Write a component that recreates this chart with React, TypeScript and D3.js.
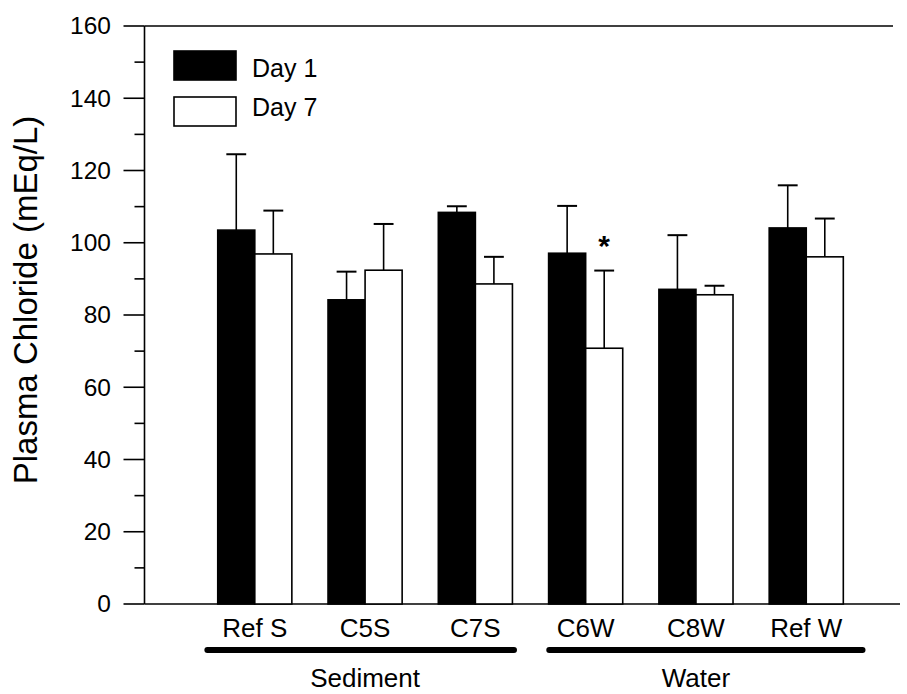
import React from "react";
import * as d3 from "d3";

// Sampling sites along the x axis
const categories = ["Ref S", "C5S", "C7S", "C6W", "C8W", "Ref W"];
// Mean plasma chloride (mEq/L) and upper error (SE) per site
const day1 = [103.5, 84.2, 108.4, 97.1, 87.1, 104.1];
const day1Err = [21.0, 7.8, 1.7, 13.1, 15.0, 11.8];
const day7 = [96.9, 92.4, 88.6, 70.8, 85.6, 96.1];
const day7Err = [12.0, 12.8, 7.5, 21.5, 2.5, 10.6];
// Significant differences (marked with an asterisk) on Day 7
const day7Signif = [false, false, false, true, false, false];
// Site groupings drawn beneath the category labels
const groupNames = ["Sediment", "Water"];
const groupFirst = [0, 3];
const groupLast = [2, 5];
const yTicks = [0, 20, 40, 60, 80, 100, 120, 140, 160];
const yMinorTicks = [10, 30, 50, 70, 90, 110, 130, 150];
const seriesNames = ["Day 1", "Day 7"];

const W = 907;
const H = 694;
const FONT = "'Liberation Sans', Arial, Helvetica, sans-serif";

export default function App() {
  const x = d3.scaleLinear().domain([0, 6.85]).range([144.5, 900]);
  const y = d3.scaleLinear().domain([0, 160]).range([604, 26]);
  const bw = 0.336; // bar width in category units
  const capHalf = 0.09;

  const bars: React.ReactNode[] = [];
  categories.forEach((c, i) => {
    const cx = i + 1;
    const series = [
      { v: day1[i], e: day1Err[i], x0: cx - bw, fill: "#000" },
      { v: day7[i], e: day7Err[i], x0: cx, fill: "#fff" },
    ];
    series.forEach((s, j) => {
      const mid = s.x0 + bw / 2;
      bars.push(
        <g key={`${c}-${j}`}>
          <line x1={x(mid)} x2={x(mid)} y1={y(s.v)} y2={y(s.v + s.e)} stroke="#000" strokeWidth={1.6} />
          <line x1={x(mid - capHalf)} x2={x(mid + capHalf)} y1={y(s.v + s.e)} y2={y(s.v + s.e)} stroke="#000" strokeWidth={2} />
          <rect x={x(s.x0)} y={y(s.v)} width={x(s.x0 + bw) - x(s.x0)} height={y(0) - y(s.v)} fill={s.fill} stroke="#000" strokeWidth={1.6} />
        </g>
      );
    });
    if (day7Signif[i]) {
      const mid = cx + bw / 2;
      bars.push(
        <text key={`sig-${c}`} x={x(mid)} y={y(day7[i] + day7Err[i]) - 15} textAnchor="middle" fontSize={30} fontWeight="bold" fontFamily={FONT}>
          *
        </text>
      );
    }
  });

  return (
    <svg width={W} height={H} style={{ position: "absolute", left: 0, top: 0, background: "#fff" }} fontFamily={FONT}>
      <rect width={W} height={H} fill="#fff" />
      {/* frame lines */}
      <line x1={x(0)} x2={900} y1={y(0)} y2={y(0)} stroke="#000" strokeWidth={1.6} />
      <line x1={x(0)} x2={893} y1={y(160)} y2={y(160)} stroke="#000" strokeWidth={1.6} />
      <line x1={x(0)} x2={x(0)} y1={y(0)} y2={y(160)} stroke="#000" strokeWidth={1.6} />
      {yTicks.map((t) => (
        <g key={t}>
          <line x1={x(0) - 21} x2={x(0)} y1={y(t)} y2={y(t)} stroke="#000" strokeWidth={1.6} />
          <text x={111} y={y(t)} dy="0.34em" textAnchor="end" fontSize={24.5}>
            {t}
          </text>
        </g>
      ))}
      {yMinorTicks.map((t) => (
        <line key={t} x1={x(0) - 10} x2={x(0)} y1={y(t)} y2={y(t)} stroke="#000" strokeWidth={1.6} />
      ))}
      <text transform={`translate(37,300) rotate(-90)`} textAnchor="middle" fontSize={33}>
        Plasma Chloride (mEq/L)
      </text>
      {bars}
      {categories.map((c, i) => (
        <text key={c} x={x(i + 1)} y={637} textAnchor="middle" fontSize={26}>
          {c}
        </text>
      ))}
      {groupNames.map((g, k) => (
        <g key={g}>
          <line
            x1={x(groupFirst[k] + 1 - (k === 0 ? 0.43 : 0.33))}
            x2={x(groupLast[k] + 1 + (k === 0 ? 0.35 : 0.51))}
            y1={650}
            y2={650}
            stroke="#000"
            strokeWidth={6}
            strokeLinecap="round"
          />
          <text x={x((groupFirst[k] + groupLast[k]) / 2 + 1)} y={687} textAnchor="middle" fontSize={26}>
            {g}
          </text>
        </g>
      ))}
      {/* legend */}
      {seriesNames.map((s, k) => (
        <g key={s}>
          <rect x={174} y={k === 0 ? 51 : 97} width={62} height={29} fill={k === 0 ? "#000" : "#fff"} stroke="#000" strokeWidth={1.6} />
          <text x={252} y={k === 0 ? 77 : 116} fontSize={25}>
            {s}
          </text>
        </g>
      ))}
    </svg>
  );
}
